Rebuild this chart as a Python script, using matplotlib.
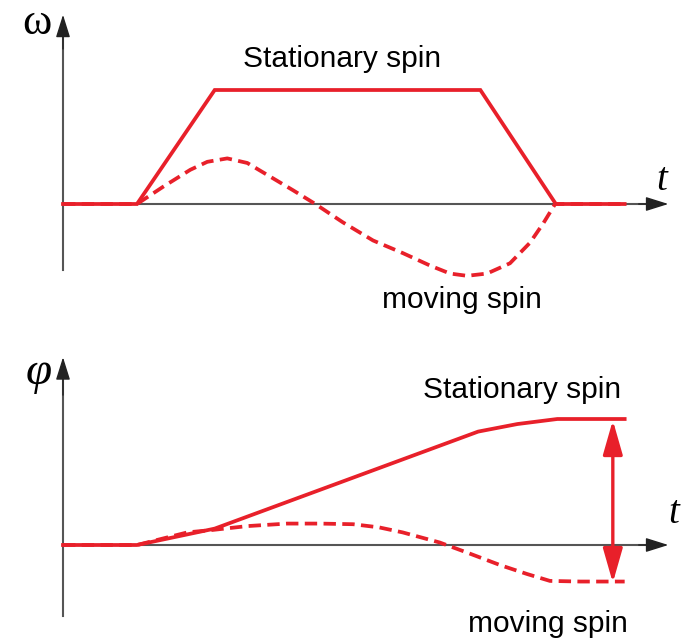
import numpy as np
import matplotlib.pyplot as plt

plt.rcParams['mathtext.fontset'] = 'custom'
plt.rcParams['mathtext.rm'] = 'Liberation Serif'
plt.rcParams['mathtext.it'] = 'Liberation Serif:italic'

# time axis in arbitrary units (acceleration starts at t = 1)
t_stat_w = [0.0, 1.0, 2.05, 5.64, 6.66, 7.59]
w_stat = [0.0, 0.0, 1.0, 1.0, 0.0, 0.0]

t_move_w = [0.0, 1.0, 1.35, 1.72, 1.95, 2.22, 2.49, 2.80, 3.11, 3.41, 3.78,
            4.19, 4.59, 4.96, 5.23, 5.46, 5.73, 6.04, 6.31, 6.49, 6.65, 7.59]
w_move = [0.0, 0.0, 0.15, 0.30, 0.37, 0.40, 0.36, 0.24, 0.12, 0.0, -0.16,
          -0.32, -0.43, -0.54, -0.61, -0.63, -0.61, -0.52, -0.34, -0.17, 0.0, 0.0]

t_stat_phi = [0.0, 1.0, 2.05, 5.61, 6.14, 6.68, 7.59]
phi_stat = [0.0, 0.0, 0.13, 0.90, 0.96, 1.0, 1.0]

t_move_phi = [0.0, 1.0, 1.68, 2.03, 2.49, 3.03, 3.47, 3.92, 4.27, 4.59, 5.09,
              5.46, 5.91, 6.27, 6.58, 6.99, 7.59]
phi_move = [0.0, 0.0, 0.10, 0.12, 0.15, 0.17, 0.17, 0.165, 0.14, 0.10, 0.02,
            -0.06, -0.16, -0.23, -0.285, -0.29, -0.29]

# phase gap marker between the two final angles
t_gap = 7.43

RED = '#e8202a'
AXC = '#555555'
HEAD = '#222222'
LW = 2.7
DASH = (0, (3.3, 1.7))


def draw_axes(ax, xmax, ymin, ymax, ylabel, ylab_xy, tlab_xy, ylab_size):
    # gray axis lines, dark filled arrow heads
    ax.plot([0, xmax - 0.2], [0, 0], color=AXC, lw=1.5, zorder=1)
    ax.plot([0, 0], [ymin, ymax - 0.1], color=AXC, lw=1.5, zorder=1)
    arrow = dict(arrowstyle='-|>,head_length=0.7,head_width=0.22', mutation_scale=20,
                 color=HEAD, lw=1.0, shrinkA=0, shrinkB=0)
    ax.annotate('', xy=(xmax, 0), xytext=(xmax - 0.4, 0), arrowprops=arrow, zorder=1)
    ax.annotate('', xy=(0, ymax), xytext=(0, ymax - 0.3), arrowprops=arrow, zorder=1)
    ax.text(*ylab_xy, ylabel, fontsize=ylab_size, ha='center', va='baseline')
    ax.text(*tlab_xy, r'$t$', fontsize=28, ha='center', va='center')


fig = plt.figure(figsize=(6.85, 6.44), dpi=100)
ax1 = fig.add_axes([0, 0.5, 1, 0.5])
ax2 = fig.add_axes([0, 0.0, 1, 0.5])
for ax in (ax1, ax2):
    ax.set_xlim(-63 / 74, (685 - 63) / 74)
    ax.axis('off')
ax1.set_ylim(-118 / 114, 204 / 114)
ax2.set_ylim(-99 / 126, 223 / 126)

# angular velocity
draw_axes(ax1, 8.18, -0.58, 1.66, r'$\mathrm{\omega}$', (-0.35, 1.49), (8.11, 0.22), 32)
ax1.plot(t_stat_w, w_stat, color=RED, lw=LW, zorder=3, solid_joinstyle='miter')
ax1.plot(t_move_w, w_move, color=RED, lw=LW, ls=DASH, zorder=3)
ax1.text(3.77, 1.20, 'Stationary spin', fontsize=21.5, family='Liberation Sans',
         ha='center', va='baseline')
ax1.text(5.39, -0.91, 'moving spin', fontsize=21.5, family='Liberation Sans',
         ha='center', va='baseline')

# angle
draw_axes(ax2, 8.18, -0.56, 1.49, r'$\varphi$', (-0.33, 1.28), (8.27, 0.26), 34)
ax2.plot(t_stat_phi, phi_stat, color=RED, lw=LW, zorder=3)
ax2.plot(t_move_phi, phi_move, color=RED, lw=LW, ls=DASH, zorder=3)
ax2.annotate('', xy=(t_gap, phi_stat[-1] - 0.01), xytext=(t_gap, phi_move[-1] - 0.01),
             arrowprops=dict(arrowstyle='<|-|>,head_length=1.05,head_width=0.3',
                             mutation_scale=20, color=RED, lw=2.4,
                             shrinkA=0, shrinkB=0), zorder=4)
ax2.text(6.20, 1.17, 'Stationary spin', fontsize=21.5, family='Liberation Sans',
         ha='center', va='baseline')
ax2.text(6.55, -0.69, 'moving spin', fontsize=21.5, family='Liberation Sans',
         ha='center', va='baseline')

fig.savefig('out.png', dpi=100, facecolor='white')
